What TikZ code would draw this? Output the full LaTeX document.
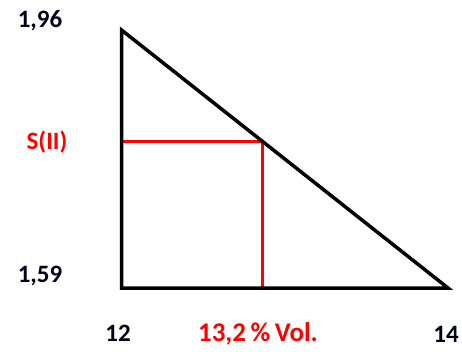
\documentclass[tikz,border=0pt]{standalone}
\usepackage{fontspec}
\setmainfont{Carlito}
\tikzset{
  lbl/.style={font=\fontsize{25}{28}\selectfont\bfseries, text=black!90!blue, inner sep=0pt},
  redlbl/.style={font=\fontsize{25}{28}\selectfont\bfseries, text=red, inner sep=0pt},
  tri/.style={line width=3.5pt, black, line join=miter},
  redline/.style={line width=3pt, red}
}
\begin{document}
\begin{tikzpicture}[x=1pt,y=-1pt]
\useasboundingbox (0,0) rectangle (462,352);
\coordinate (T) at (121.5,30);
\coordinate (BL) at (121.5,288);
\coordinate (BR) at (448,288);
\coordinate (P) at (262,142);
\coordinate (PL) at (121.5,142);
\coordinate (PB) at (262,288);
\draw[redline] (PL) -- (P) -- (PB);
\draw[tri] (T) -- (BL) -- (BR) -- cycle;
\node[lbl] (a) at (40,21) {1,96};
\node[redlbl] (s) at (47,142) {S(II)};
\node[lbl] (b) at (40,276) {1,59};
\node[lbl] (c) at (118,333) {12};
\node[redlbl, font=\fontsize{27}{30}\selectfont\bfseries] (d) at (258,334) {13,2\,\%\,Vol.};
\node[lbl] (e) at (446,334) {14};
\end{tikzpicture}
\end{document}
